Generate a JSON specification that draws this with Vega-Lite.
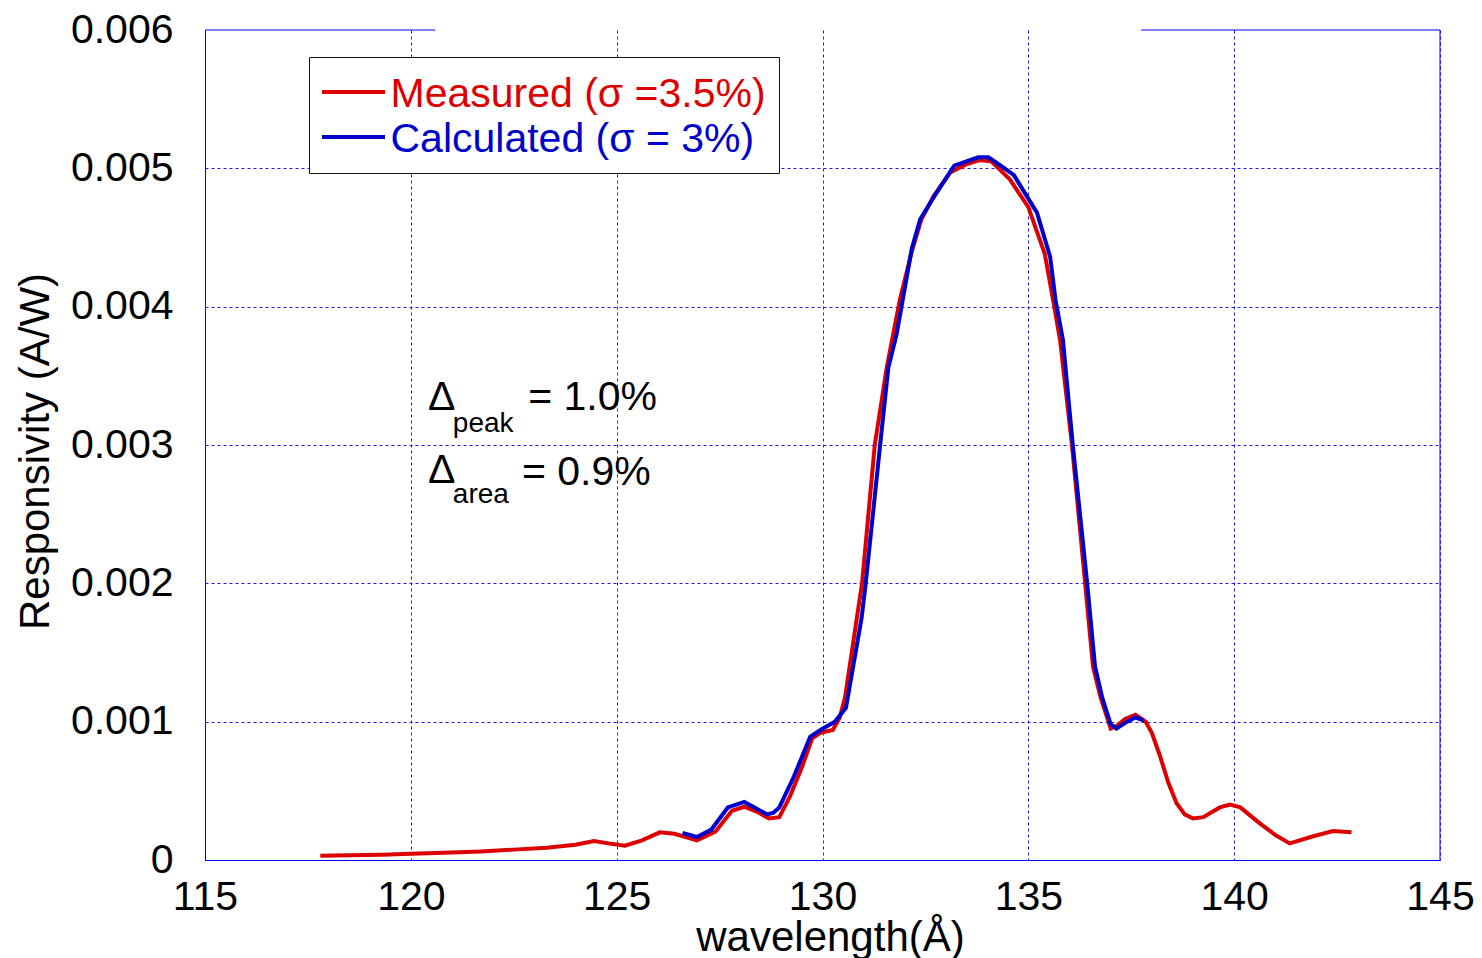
{
  "$schema": "https://vega.github.io/schema/vega-lite/v6.json",
  "width": 1235,
  "height": 830,
  "autosize": {"type": "none"},
  "padding": {"left": 205, "top": 30, "right": 42, "bottom": 98},
  "background": "white",
  "config": {
    "font": "Liberation Sans",
    "view": {"stroke": null},
    "axis": {
      "labelFont": "Liberation Sans",
      "titleFont": "Liberation Sans",
      "labelFontSize": 41,
      "titleFontSize": 42,
      "titleFontWeight": "normal",
      "labelColor": "#000000",
      "titleColor": "#000000",
      "ticks": false,
      "tickSize": 0,
      "domainColor": "#0000ff",
      "domainWidth": 1,
      "gridColor": "#1a1aff",
      "gridDash": [3, 3],
      "gridWidth": 1,
      "labelFlush": false,
      "labelOverlap": false
    }
  },
  "encoding": {
    "x": {
      "field": "wl",
      "type": "quantitative",
      "scale": {"domain": [115, 145], "nice": false, "zero": false},
      "axis": {
        "title": "wavelength(Å)",
        "values": [115, 120, 125, 130, 135, 140, 145],
        "labelPadding": 17,
        "titlePadding": 0,
        "titleX": 625,
        "grid": true
      }
    },
    "y": {
      "field": "resp",
      "type": "quantitative",
      "scale": {"domain": [0, 0.006], "nice": false, "zero": true},
      "axis": {
        "title": "Responsivity (A/W)",
        "values": [0, 0.001, 0.002, 0.003, 0.004, 0.005, 0.006],
        "format": ".3~f",
        "labelPadding": 32,
        "titlePadding": 13,
        "titleY": 421,
        "grid": true,
        "gridOpacity": {"condition": {"test": "datum.value > 0.0055", "value": 0}, "value": 1}
      }
    }
  },
  "layer": [
    {
      "data": {"values": [
        {"wl": 145, "resp": 0, "wl2": 145, "resp2": 0.006},
        {"wl": 115, "resp": 0.006, "wl2": 120.59, "resp2": 0.006},
        {"wl": 137.74, "resp": 0.006, "wl2": 145, "resp2": 0.006}
      ]},
      "mark": {"type": "rule", "color": "#0000ff", "strokeWidth": 1},
      "encoding": {
        "x2": {"field": "wl2"},
        "y2": {"field": "resp2"}
      }
    },
    {
      "data": {"values": [
        {"wl": 117.8, "resp": 0.00003, "series": "Measured (σ =3.5%)"},
        {"wl": 118.5, "resp": 0.000035, "series": "Measured (σ =3.5%)"},
        {"wl": 119.3, "resp": 0.000038, "series": "Measured (σ =3.5%)"},
        {"wl": 120.0, "resp": 0.000045, "series": "Measured (σ =3.5%)"},
        {"wl": 120.8, "resp": 0.000052, "series": "Measured (σ =3.5%)"},
        {"wl": 121.7, "resp": 0.000062, "series": "Measured (σ =3.5%)"},
        {"wl": 122.5, "resp": 0.000075, "series": "Measured (σ =3.5%)"},
        {"wl": 123.3, "resp": 0.000088, "series": "Measured (σ =3.5%)"},
        {"wl": 124.0, "resp": 0.00011, "series": "Measured (σ =3.5%)"},
        {"wl": 124.45, "resp": 0.000137, "series": "Measured (σ =3.5%)"},
        {"wl": 124.8, "resp": 0.00012, "series": "Measured (σ =3.5%)"},
        {"wl": 125.2, "resp": 0.000103, "series": "Measured (σ =3.5%)"},
        {"wl": 125.6, "resp": 0.00014, "series": "Measured (σ =3.5%)"},
        {"wl": 126.05, "resp": 0.0002, "series": "Measured (σ =3.5%)"},
        {"wl": 126.4, "resp": 0.00019, "series": "Measured (σ =3.5%)"},
        {"wl": 126.95, "resp": 0.000142, "series": "Measured (σ =3.5%)"},
        {"wl": 127.4, "resp": 0.000205, "series": "Measured (σ =3.5%)"},
        {"wl": 127.8, "resp": 0.000356, "series": "Measured (σ =3.5%)"},
        {"wl": 128.1, "resp": 0.000385, "series": "Measured (σ =3.5%)"},
        {"wl": 128.4, "resp": 0.00035, "series": "Measured (σ =3.5%)"},
        {"wl": 128.7, "resp": 0.0003, "series": "Measured (σ =3.5%)"},
        {"wl": 128.95, "resp": 0.00031, "series": "Measured (σ =3.5%)"},
        {"wl": 129.21, "resp": 0.00046, "series": "Measured (σ =3.5%)"},
        {"wl": 129.5, "resp": 0.00067, "series": "Measured (σ =3.5%)"},
        {"wl": 129.75, "resp": 0.00088, "series": "Measured (σ =3.5%)"},
        {"wl": 129.95, "resp": 0.00092, "series": "Measured (σ =3.5%)"},
        {"wl": 130.25, "resp": 0.00094, "series": "Measured (σ =3.5%)"},
        {"wl": 130.42, "resp": 0.00103, "series": "Measured (σ =3.5%)"},
        {"wl": 130.55, "resp": 0.00118, "series": "Measured (σ =3.5%)"},
        {"wl": 130.96, "resp": 0.002, "series": "Measured (σ =3.5%)"},
        {"wl": 131.27, "resp": 0.003, "series": "Measured (σ =3.5%)"},
        {"wl": 131.56, "resp": 0.00356, "series": "Measured (σ =3.5%)"},
        {"wl": 131.88, "resp": 0.00405, "series": "Measured (σ =3.5%)"},
        {"wl": 132.17, "resp": 0.0044, "series": "Measured (σ =3.5%)"},
        {"wl": 132.4, "resp": 0.00463, "series": "Measured (σ =3.5%)"},
        {"wl": 132.7, "resp": 0.0048, "series": "Measured (σ =3.5%)"},
        {"wl": 133.1, "resp": 0.00497, "series": "Measured (σ =3.5%)"},
        {"wl": 133.5, "resp": 0.00503, "series": "Measured (σ =3.5%)"},
        {"wl": 133.83, "resp": 0.00506, "series": "Measured (σ =3.5%)"},
        {"wl": 134.1, "resp": 0.00505, "series": "Measured (σ =3.5%)"},
        {"wl": 134.55, "resp": 0.00492, "series": "Measured (σ =3.5%)"},
        {"wl": 135.0, "resp": 0.00472, "series": "Measured (σ =3.5%)"},
        {"wl": 135.4, "resp": 0.00438, "series": "Measured (σ =3.5%)"},
        {"wl": 135.6, "resp": 0.00405, "series": "Measured (σ =3.5%)"},
        {"wl": 135.77, "resp": 0.00376, "series": "Measured (σ =3.5%)"},
        {"wl": 136.06, "resp": 0.003, "series": "Measured (σ =3.5%)"},
        {"wl": 136.38, "resp": 0.002, "series": "Measured (σ =3.5%)"},
        {"wl": 136.57, "resp": 0.0014, "series": "Measured (σ =3.5%)"},
        {"wl": 136.75, "resp": 0.00118, "series": "Measured (σ =3.5%)"},
        {"wl": 137.0, "resp": 0.00095, "series": "Measured (σ =3.5%)"},
        {"wl": 137.15, "resp": 0.00097, "series": "Measured (σ =3.5%)"},
        {"wl": 137.35, "resp": 0.00102, "series": "Measured (σ =3.5%)"},
        {"wl": 137.6, "resp": 0.00105, "series": "Measured (σ =3.5%)"},
        {"wl": 137.85, "resp": 0.001, "series": "Measured (σ =3.5%)"},
        {"wl": 138.0, "resp": 0.00092, "series": "Measured (σ =3.5%)"},
        {"wl": 138.2, "resp": 0.00075, "series": "Measured (σ =3.5%)"},
        {"wl": 138.4, "resp": 0.00056, "series": "Measured (σ =3.5%)"},
        {"wl": 138.6, "resp": 0.00041, "series": "Measured (σ =3.5%)"},
        {"wl": 138.8, "resp": 0.00033, "series": "Measured (σ =3.5%)"},
        {"wl": 139.0, "resp": 0.0003, "series": "Measured (σ =3.5%)"},
        {"wl": 139.25, "resp": 0.00031, "series": "Measured (σ =3.5%)"},
        {"wl": 139.65, "resp": 0.00038, "series": "Measured (σ =3.5%)"},
        {"wl": 139.9, "resp": 0.0004, "series": "Measured (σ =3.5%)"},
        {"wl": 140.15, "resp": 0.00038, "series": "Measured (σ =3.5%)"},
        {"wl": 140.6, "resp": 0.00027, "series": "Measured (σ =3.5%)"},
        {"wl": 141.0, "resp": 0.00018, "series": "Measured (σ =3.5%)"},
        {"wl": 141.35, "resp": 0.00012, "series": "Measured (σ =3.5%)"},
        {"wl": 141.9, "resp": 0.00017, "series": "Measured (σ =3.5%)"},
        {"wl": 142.4, "resp": 0.00021, "series": "Measured (σ =3.5%)"},
        {"wl": 142.85, "resp": 0.0002, "series": "Measured (σ =3.5%)"}
      ]},
      "mark": {"type": "line", "strokeWidth": 4},
      "encoding": {
        "color": {
          "field": "series",
          "type": "nominal",
          "scale": {"domain": ["Measured (σ =3.5%)", "Calculated (σ = 3%)"], "range": ["#dd0000", "#0000cc"]},
          "legend": {
            "title": null,
            "orient": "none",
            "legendX": 104,
            "legendY": 27,
            "padding": 13,
            "fillColor": "#ffffff",
            "strokeColor": "#111111",
            "symbolType": "M-1.575,0H1.575",
            "symbolSize": 1600,
            "symbolStrokeWidth": 4,
            "symbolOffset": 9.5,
            "labelFontSize": 41,
            "labelFont": "Liberation Sans",
            "labelLimit": 800,
            "labelOffset": 15,
            "rowPadding": 0,
            "encode": {
              "labels": {"update": {"fill": {"scale": "color", "field": "value"}, "dy": {"value": 3}}}
            }
          }
        }
      }
    },
    {
      "data": {"values": [
        {"wl": 126.6, "resp": 0.000195, "series": "Calculated (σ = 3%)"},
        {"wl": 126.95, "resp": 0.000166, "series": "Calculated (σ = 3%)"},
        {"wl": 127.3, "resp": 0.00022, "series": "Calculated (σ = 3%)"},
        {"wl": 127.7, "resp": 0.00038, "series": "Calculated (σ = 3%)"},
        {"wl": 128.1, "resp": 0.00042, "series": "Calculated (σ = 3%)"},
        {"wl": 128.35, "resp": 0.00038, "series": "Calculated (σ = 3%)"},
        {"wl": 128.65, "resp": 0.00033, "series": "Calculated (σ = 3%)"},
        {"wl": 128.8, "resp": 0.00034, "series": "Calculated (σ = 3%)"},
        {"wl": 128.95, "resp": 0.00038, "series": "Calculated (σ = 3%)"},
        {"wl": 129.3, "resp": 0.0006, "series": "Calculated (σ = 3%)"},
        {"wl": 129.7, "resp": 0.00089, "series": "Calculated (σ = 3%)"},
        {"wl": 129.95, "resp": 0.00094, "series": "Calculated (σ = 3%)"},
        {"wl": 130.3, "resp": 0.001, "series": "Calculated (σ = 3%)"},
        {"wl": 130.57, "resp": 0.0011, "series": "Calculated (σ = 3%)"},
        {"wl": 130.95, "resp": 0.00175, "series": "Calculated (σ = 3%)"},
        {"wl": 131.05, "resp": 0.002, "series": "Calculated (σ = 3%)"},
        {"wl": 131.4, "resp": 0.003, "series": "Calculated (σ = 3%)"},
        {"wl": 131.6, "resp": 0.00356, "series": "Calculated (σ = 3%)"},
        {"wl": 131.8, "resp": 0.0038, "series": "Calculated (σ = 3%)"},
        {"wl": 132.17, "resp": 0.00442, "series": "Calculated (σ = 3%)"},
        {"wl": 132.37, "resp": 0.00463, "series": "Calculated (σ = 3%)"},
        {"wl": 132.7, "resp": 0.00479, "series": "Calculated (σ = 3%)"},
        {"wl": 133.2, "resp": 0.00502, "series": "Calculated (σ = 3%)"},
        {"wl": 133.78, "resp": 0.00508, "series": "Calculated (σ = 3%)"},
        {"wl": 134.03, "resp": 0.00508, "series": "Calculated (σ = 3%)"},
        {"wl": 134.33, "resp": 0.00502, "series": "Calculated (σ = 3%)"},
        {"wl": 134.65, "resp": 0.00495, "series": "Calculated (σ = 3%)"},
        {"wl": 135.21, "resp": 0.00468, "series": "Calculated (σ = 3%)"},
        {"wl": 135.53, "resp": 0.00436, "series": "Calculated (σ = 3%)"},
        {"wl": 135.66, "resp": 0.00405, "series": "Calculated (σ = 3%)"},
        {"wl": 135.84, "resp": 0.00376, "series": "Calculated (σ = 3%)"},
        {"wl": 136.08, "resp": 0.003, "series": "Calculated (σ = 3%)"},
        {"wl": 136.43, "resp": 0.002, "series": "Calculated (σ = 3%)"},
        {"wl": 136.62, "resp": 0.0014, "series": "Calculated (σ = 3%)"},
        {"wl": 136.79, "resp": 0.00118, "series": "Calculated (σ = 3%)"},
        {"wl": 137.0, "resp": 0.00098, "series": "Calculated (σ = 3%)"},
        {"wl": 137.14, "resp": 0.00095, "series": "Calculated (σ = 3%)"},
        {"wl": 137.4, "resp": 0.001, "series": "Calculated (σ = 3%)"},
        {"wl": 137.6, "resp": 0.00103, "series": "Calculated (σ = 3%)"},
        {"wl": 137.8, "resp": 0.00101, "series": "Calculated (σ = 3%)"}
      ]},
      "mark": {"type": "line", "strokeWidth": 4},
      "encoding": {
        "color": {
          "field": "series",
          "type": "nominal",
          "scale": {"domain": ["Measured (σ =3.5%)", "Calculated (σ = 3%)"], "range": ["#dd0000", "#0000cc"]},
          "legend": {
            "title": null,
            "orient": "none",
            "legendX": 104,
            "legendY": 27,
            "padding": 13,
            "fillColor": "#ffffff",
            "strokeColor": "#111111",
            "symbolType": "M-1.575,0H1.575",
            "symbolSize": 1600,
            "symbolStrokeWidth": 4,
            "symbolOffset": 9.5,
            "labelFontSize": 41,
            "labelFont": "Liberation Sans",
            "labelLimit": 800,
            "labelOffset": 15,
            "rowPadding": 0,
            "encode": {
              "labels": {"update": {"fill": {"scale": "color", "field": "value"}, "dy": {"value": 3}}}
            }
          }
        }
      }
    },
    {
      "data": {"values": [
        {"wl": 120.42, "resp": 0.003253, "t": "Δ"},
        {"wl": 122.85, "resp": 0.003253, "t": "= 1.0%"},
        {"wl": 120.42, "resp": 0.002725, "t": "Δ"},
        {"wl": 122.70, "resp": 0.002711, "t": "= 0.9%"}
      ]},
      "mark": {"type": "text", "fontSize": 41, "font": "Liberation Sans", "align": "left", "baseline": "alphabetic", "color": "#000000"},
      "encoding": {"text": {"field": "t"}}
    },
    {
      "data": {"values": [
        {"wl": 121.02, "resp": 0.003094, "t": "peak"},
        {"wl": 121.02, "resp": 0.002581, "t": "area"}
      ]},
      "mark": {"type": "text", "fontSize": 28, "font": "Liberation Sans", "align": "left", "baseline": "alphabetic", "color": "#000000"},
      "encoding": {"text": {"field": "t"}}
    }
  ]
}
